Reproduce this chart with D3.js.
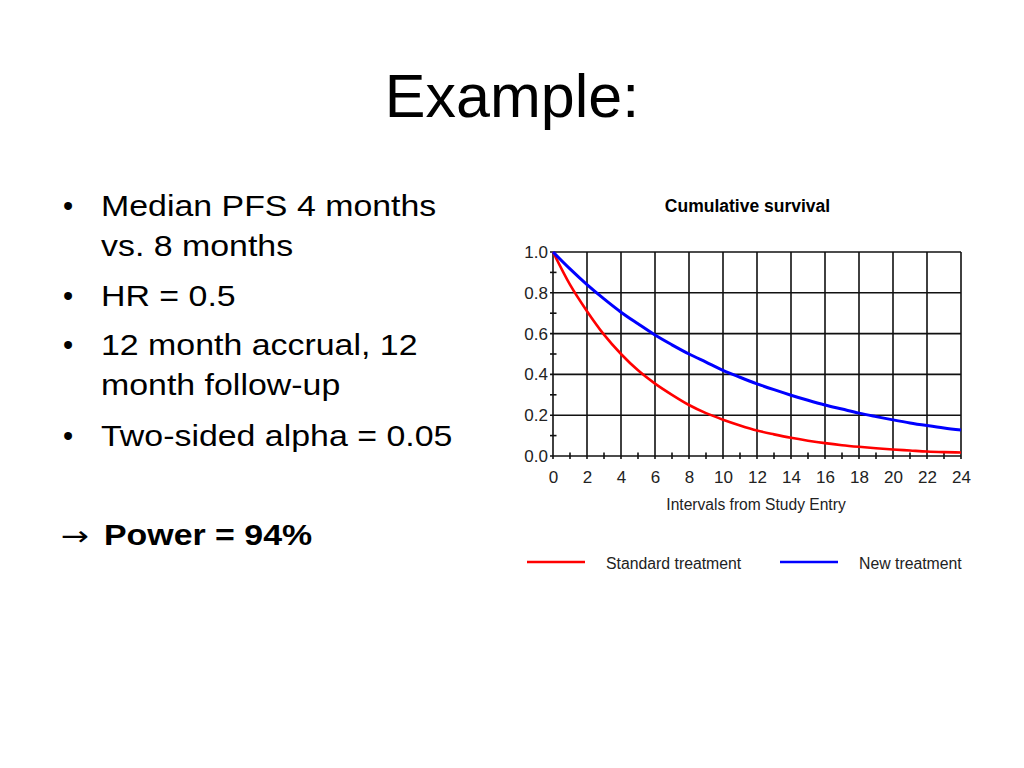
<!DOCTYPE html>
<html>
<head>
<meta charset="utf-8">
<script src="https://cdn.jsdelivr.net/npm/d3@7"></script>
<style>
  body { margin: 0; background: #fff; }
  svg { display: block; }
</style>
</head>
<body>
<svg width="1024" height="768"></svg>
<script>
// Survival curves at each month
const months = d3.range(0, 25);
const standardSurv = [1.0, 0.84, 0.71, 0.595, 0.5, 0.42, 0.355, 0.3, 0.25, 0.21, 0.178, 0.15,
  0.125, 0.106, 0.089, 0.075, 0.063, 0.053, 0.045, 0.038, 0.032, 0.027, 0.022, 0.019, 0.017];
const newSurv = [1.0, 0.917, 0.84, 0.77, 0.705, 0.648, 0.593, 0.545, 0.5, 0.46, 0.42, 0.386,
  0.354, 0.325, 0.298, 0.273, 0.25, 0.23, 0.21, 0.193, 0.177, 0.162, 0.149, 0.137, 0.127];

const seriesNames = ["Standard treatment", "New treatment"];
const seriesColors = ["#ff0000", "#0000ff"];

const xTicks = d3.range(0, 25, 2);
const xMinor = d3.range(1, 24, 2);
const yTicks = [0, 0.2, 0.4, 0.6, 0.8, 1.0];
const yMinor = [0.1, 0.3, 0.5, 0.7, 0.9];

const bullets = [
  ["Median PFS 4 months", "vs. 8 months"],
  ["HR = 0.5"],
  ["12 month accrual, 12", "month follow-up"],
  ["Two-sided alpha = 0.05"]
];

const svg = d3.select("svg");
const FONT = "'Liberation Sans', Arial, sans-serif";

// Slide title
svg.append("text")
  .attr("x", 512).attr("y", 117)
  .attr("text-anchor", "middle")
  .style("font-family", FONT).style("font-size", "61px")
  .text("Example:");

// Bullet list (text in the slide is a bit wider than normal, hence the scale)
const baselines = [[216, 256], [306], [355, 395], [446]];
bullets.forEach((lines, i) => {
  svg.append("text")
    .attr("x", 68).attr("y", baselines[i][0])
    .attr("text-anchor", "middle")
    .style("font-family", FONT).style("font-size", "29px")
    .text("\u2022");
  lines.forEach((line, j) => {
    svg.append("g")
      .attr("transform", `translate(101,${baselines[i][j]}) scale(1.13,1)`)
      .append("text")
      .style("font-family", FONT).style("font-size", "30px")
      .text(line);
  });
});

svg.append("g")
  .attr("transform", "translate(61,545) scale(1.25,1)")
  .append("text")
  .style("font-family", "'DejaVu Sans', sans-serif").style("font-size", "27px")
  .text("\u2192");
svg.append("g")
  .attr("transform", "translate(104,545) scale(1.13,1)")
  .append("text")
  .style("font-family", FONT).style("font-size", "30px")
  .style("font-weight", "bold")
  .text("Power = 94%");

// Chart
const x = d3.scaleLinear().domain([0, 24]).range([553, 961]);
const y = d3.scaleLinear().domain([0, 1]).range([456, 252]);

svg.append("text")
  .attr("x", 747.5).attr("y", 212)
  .attr("text-anchor", "middle")
  .style("font-family", FONT).style("font-size", "17.5px")
  .style("font-weight", "bold")
  .text("Cumulative survival");

const grid = svg.append("g")
  .attr("stroke", "#111")
  .attr("stroke-width", 1.6);

grid.selectAll("line.v")
  .data(xTicks)
  .enter().append("line")
  .attr("class", "v")
  .attr("x1", (d) => x(d)).attr("x2", (d) => x(d))
  .attr("y1", y(1)).attr("y2", y(0) + 3);

grid.selectAll("line.h")
  .data(yTicks)
  .enter().append("line")
  .attr("class", "h")
  .attr("x1", x(0) - 3).attr("x2", x(24))
  .attr("y1", (d) => y(d)).attr("y2", (d) => y(d));

grid.selectAll("line.xm")
  .data(xMinor)
  .enter().append("line")
  .attr("class", "xm")
  .attr("x1", (d) => x(d)).attr("x2", (d) => x(d))
  .attr("y1", y(0) - 3.5).attr("y2", y(0) + 3);

grid.selectAll("line.ym")
  .data(yMinor)
  .enter().append("line")
  .attr("class", "ym")
  .attr("x1", x(0) - 3).attr("x2", x(0) + 3.5)
  .attr("y1", (d) => y(d)).attr("y2", (d) => y(d));

// Tick labels through the axes, with no lines of their own
const xAxis = svg.append("g")
  .attr("transform", `translate(0,${y(0)})`)
  .call(d3.axisBottom(x).tickValues(xTicks).tickSize(0).tickPadding(15));
const yAxis = svg.append("g")
  .attr("transform", `translate(${x(0)},0)`)
  .call(d3.axisLeft(y).tickValues(yTicks).tickFormat(d3.format(".1f")).tickSize(0).tickPadding(5));

[xAxis, yAxis].forEach((a) => {
  a.select(".domain").remove();
  a.selectAll("text")
    .style("font-family", FONT).style("font-size", "17px")
    .attr("fill", "#222");
});

svg.append("text")
  .attr("x", 756).attr("y", 510)
  .attr("text-anchor", "middle")
  .style("font-family", FONT).style("font-size", "15.6px")
  .attr("fill", "#222")
  .text("Intervals from Study Entry");

// Curves
const line = d3.line()
  .x((d, i) => x(months[i]))
  .y((d) => y(d))
  .curve(d3.curveMonotoneX);

[standardSurv, newSurv].forEach((s, i) => {
  svg.append("path")
    .datum(s)
    .attr("fill", "none")
    .attr("stroke", seriesColors[i])
    .attr("stroke-width", i === 0 ? 2.6 : 3)
    .attr("d", line);
});

// Legend
const legendX = [527, 780];
seriesNames.forEach((name, i) => {
  svg.append("line")
    .attr("x1", legendX[i]).attr("x2", legendX[i] + 58)
    .attr("y1", 562).attr("y2", 562)
    .attr("stroke", seriesColors[i])
    .attr("stroke-width", 2.6);
  svg.append("text")
    .attr("x", legendX[i] + 79).attr("y", 569)
    .style("font-family", FONT).style("font-size", "15.8px")
    .attr("fill", "#222")
    .text(name);
});
</script>
</body>
</html>
